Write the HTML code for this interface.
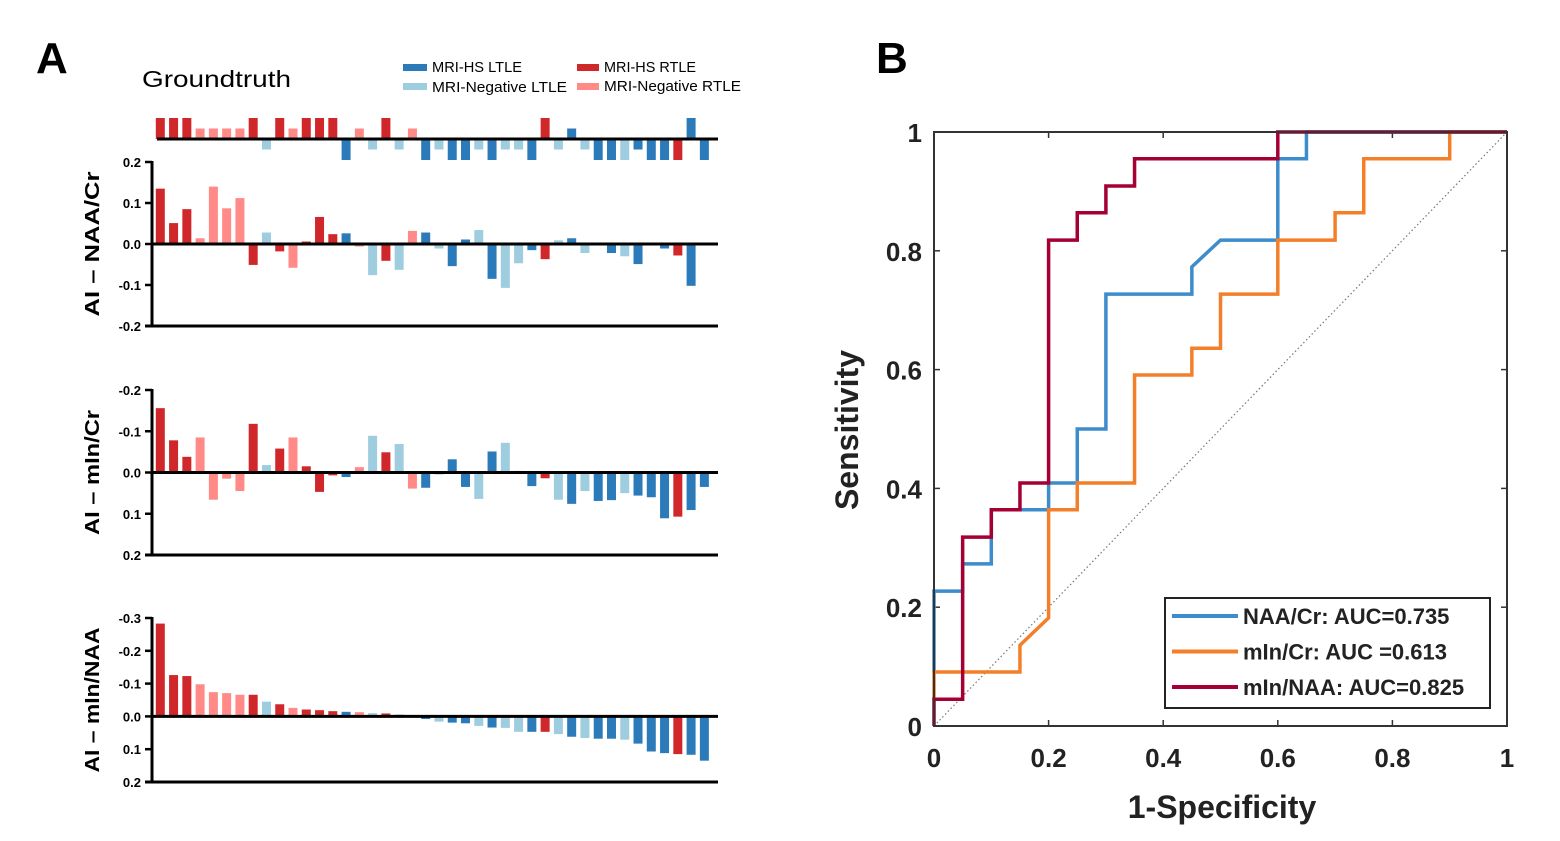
<!DOCTYPE html>
<html><head><meta charset="utf-8"><style>
html,body{margin:0;padding:0;background:#fff;}
svg text{font-family:"Liberation Sans",sans-serif;}
</style></head><body>
<svg id="fig" width="1560" height="836" viewBox="0 0 1560 836" xmlns="http://www.w3.org/2000/svg">
<text x="36" y="73" font-size="44" font-weight="bold">A</text>
<text x="876" y="73" font-size="44" font-weight="bold">B</text>
<text x="142" y="87" font-size="23" textLength="149" lengthAdjust="spacingAndGlyphs">Groundtruth</text>
<g font-size="15">
<rect x="403" y="64" width="24" height="7" fill="#2b7bba"/><text x="432" y="72" textLength="90" lengthAdjust="spacingAndGlyphs">MRI-HS LTLE</text>
<rect x="403" y="83" width="24" height="7" fill="#9ecde0"/><text x="432" y="92" textLength="135" lengthAdjust="spacingAndGlyphs">MRI-Negative LTLE</text>
<rect x="577" y="64" width="22" height="7" fill="#d0272a"/><text x="604" y="72" textLength="92" lengthAdjust="spacingAndGlyphs">MRI-HS RTLE</text>
<rect x="577" y="83" width="22" height="7" fill="#ff8a87"/><text x="604" y="91" textLength="137" lengthAdjust="spacingAndGlyphs">MRI-Negative RTLE</text>
</g>
<g id="barsA"></g>
<g id="roc"></g>
</svg>
<script>
const typesGT = ["R","R","R","r","r","r","r","R","b","R","r","R","R","R","B","r","b","R","b","r","B","b","B","B","b","B","b","b","B","R","b","B","b","B","B","b","B","B","B","R","B","B"];
const gtValues = [1,1,1,.5,.5,.5,.5,1,-.5,1,.5,1,1,1,-1,.5,-.5,1,-.5,.5,-1,-.5,-1,-1,-.5,-1,-.5,-.5,-1,1,-.5,.5,-.5,-1,-1,-1,-.5,-1,-1,-1,1,-1];
const naaCrValues = [0.135,0.051,0.085,0.014,0.14,0.087,0.112,-0.051,0.028,-0.018,-0.058,0.006,0.066,0.024,0.026,-0.006,-0.076,-0.041,-0.063,0.032,0.028,-0.011,-0.054,0.011,0.034,-0.085,-0.107,-0.047,-0.015,-0.037,0.009,0.014,-0.022,0,-0.022,-0.030,-0.049,0,-0.011,-0.028,-0.102,0];
const minCrValues = [-0.156,-0.078,-0.038,-0.085,0.066,0.015,0.045,-0.118,-0.018,-0.058,-0.085,-0.015,0.047,0.007,0.011,-0.013,-0.089,-0.049,-0.069,0.039,0.037,0.005,-0.032,0.035,0.064,-0.051,-0.072,-0.004,0.033,0.014,0.066,0.076,0.045,0.069,0.067,0.050,0.056,0.060,0.111,0.107,0.091,0.035];
const typesMinNaa = ["R","R","R","r","r","r","r","R","b","R","r","R","R","R","B","r","b","R","b","b","B","b","B","B","b","B","b","b","B","R","b","B","b","B","B","b","B","B","B","R","B","B"];
const minNaaValues = [-0.283,-0.126,-0.123,-0.098,-0.074,-0.071,-0.066,-0.066,-0.045,-0.037,-0.026,-0.021,-0.019,-0.016,-0.014,-0.013,-0.010,-0.009,-0.006,0.002,0.008,0.016,0.019,0.021,0.029,0.034,0.035,0.047,0.047,0.047,0.054,0.062,0.066,0.068,0.068,0.071,0.083,0.107,0.112,0.115,0.117,0.135];
const naaTicks = ["0.2","0.1","0.0","-0.1","-0.2"];
const minCrTicks = ["-0.2","-0.1","0.0","0.1","0.2"];
const minNaaTicks = ["-0.3","-0.2","-0.1","0.0","0.1","0.2"];
const rocX = [0,0.2,0.4,0.6,0.8,1];
const rocTickLabels = ["0","0.2","0.4","0.6","0.8","1"];
const naaCrRoc = [[0,0.09],[0,0.227],[0.05,0.227],[0.05,0.273],[0.1,0.273],[0.1,0.364],[0.2,0.364],[0.2,0.409],[0.25,0.409],[0.25,0.5],[0.3,0.5],[0.3,0.727],[0.45,0.727],[0.45,0.773],[0.5,0.818],[0.6,0.818],[0.6,0.955],[0.65,0.955],[0.65,1],[1,1]];
const minCrRoc = [[0,0.045],[0,0.091],[0.15,0.091],[0.15,0.136],[0.2,0.182],[0.2,0.364],[0.25,0.364],[0.25,0.409],[0.35,0.409],[0.35,0.591],[0.45,0.591],[0.45,0.636],[0.5,0.636],[0.5,0.727],[0.6,0.727],[0.6,0.818],[0.7,0.818],[0.7,0.864],[0.75,0.864],[0.75,0.955],[0.9,0.955],[0.9,1],[1,1]];
const minNaaRoc = [[0,0],[0,0.045],[0.05,0.045],[0.05,0.318],[0.1,0.318],[0.1,0.364],[0.15,0.364],[0.15,0.409],[0.2,0.409],[0.2,0.818],[0.25,0.818],[0.25,0.864],[0.3,0.864],[0.3,0.909],[0.35,0.909],[0.35,0.955],[0.6,0.955],[0.6,1],[1,1]];
const rocLabels = ["NAA/Cr: AUC=0.735","mIn/Cr: AUC =0.613","mIn/NAA: AUC=0.825"];

const NS="http://www.w3.org/2000/svg";
const COL={R:"#d0272a",r:"#ff8a87",B:"#2b7bba",b:"#9ecde0"};
function mk(parent,tag,attrs){const e=document.createElementNS(NS,tag);for(const k in attrs)e.setAttribute(k,attrs[k]);parent.appendChild(e);return e;}
const bx=i=>160.3+i*13.27;
const A=document.getElementById('barsA');

const gtScale=21;
gtValues.forEach((v,i)=>{const y0=139,y1=139-v*gtScale;
 const r=mk(A,'rect',{x:bx(i)-4.5,y:Math.min(y0,y1),width:9,height:Math.abs(y1-y0),fill:COL[typesGT[i]]});
 
 });
const gl=mk(A,'line',{x1:157,x2:718,y1:139,y2:139,stroke:"#000","stroke-width":3});



function barChart(name,values,types,ticks,top,bottom,zeroIdx,sign,label,lblLen){
 const n=ticks.length-1, step=(bottom-top)/n, zero=top+zeroIdx*step, scale=step/0.1;
 const yv=v=>zero - sign*v*scale;
 values.forEach((v,i)=>{const y1=yv(v);
  const r=mk(A,'rect',{x:bx(i)-4.5,y:Math.min(zero,y1),width:9,height:Math.abs(y1-zero),fill:COL[types[i]]});
  
  });
 ticks.forEach((t,k)=>{const y=top+k*step;
  mk(A,'line',{x1:145,x2:152,y1:y,y2:y,stroke:"#000","stroke-width":2.5});
  const tx=mk(A,'text',{x:141,y:y+5,"text-anchor":"end","font-size":13,"font-weight":"bold"});tx.textContent=t;
  
  });
 mk(A,'line',{x1:152,x2:152,y1:top-1,y2:bottom,stroke:"#000","stroke-width":3});
 mk(A,'line',{x1:145,x2:718,y1:bottom,y2:bottom,stroke:"#000","stroke-width":3});
 mk(A,'line',{x1:152,x2:718,y1:zero,y2:zero,stroke:"#000","stroke-width":3});
 const cy=(top+bottom)/2;
 const lt=mk(A,'text',{x:0,y:0,transform:`translate(99,${cy}) rotate(-90)`,"text-anchor":"middle","font-size":20,"font-weight":"bold",textLength:lblLen,lengthAdjust:"spacingAndGlyphs"});
 lt.textContent=label;
 
 
}
barChart('naa-cr',naaCrValues,typesGT,naaTicks,162,326,2,1,"AI – NAA/Cr",145);
barChart('min-cr',minCrValues,typesGT,minCrTicks,390,555,2,-1,"AI – mIn/Cr",125);
barChart('min-naa',minNaaValues,typesMinNaa,minNaaTicks,618,782,3,-1,"AI – mIn/NAA",145);

const R=document.getElementById('roc');
const X0=934,X1=1507,Y0=726,Y1=132;
const sx=v=>X0+v*(X1-X0), sy=v=>Y0-v*(Y0-Y1);
mk(R,'line',{x1:sx(0),y1:sy(0),x2:sx(1),y2:sy(1),stroke:"#777","stroke-width":1.2,"stroke-dasharray":"1.5 2.5"});
rocX.forEach((v,k)=>{
 mk(R,'line',{x1:sx(v),x2:sx(v),y1:Y0,y2:Y0-6,stroke:"#333","stroke-width":1.5});
 mk(R,'line',{x1:sx(v),x2:sx(v),y1:Y1,y2:Y1+6,stroke:"#333","stroke-width":1.5});
 mk(R,'line',{x1:X0,x2:X0+6,y1:sy(v),y2:sy(v),stroke:"#333","stroke-width":1.5});
 mk(R,'line',{x1:X1,x2:X1-6,y1:sy(v),y2:sy(v),stroke:"#333","stroke-width":1.5});
 const tx=mk(R,'text',{x:sx(v),y:767,"text-anchor":"middle","font-size":26,"font-weight":"bold",fill:"#222"});tx.textContent=rocTickLabels[k];
 
 
 const ty=mk(R,'text',{x:922,y:sy(v)+10,"text-anchor":"end","font-size":26,"font-weight":"bold",fill:"#222"});ty.textContent=rocTickLabels[k];
 
 
});
const series=[[naaCrRoc,"#3d8ccb"],[minCrRoc,"#f47f2a"],[minNaaRoc,"#a50034"]];
series.forEach(([pts,c])=>{
 const p=mk(R,'polyline',{points:pts.map(q=>sx(q[0])+","+sy(q[1])).join(" "),fill:"none",stroke:c,"stroke-width":3.5,"stroke-linejoin":"miter"});
 
 
});
const box=mk(R,'rect',{x:X0,y:Y1,width:X1-X0,height:Y0-Y1,fill:"none",stroke:"#333","stroke-width":2});


const lg=mk(R,'g',{});


mk(lg,'rect',{x:1165,y:598,width:325,height:110,fill:"#fff",stroke:"#222","stroke-width":2});
rocLabels.forEach((t,k)=>{const y=616+k*35.5;
 mk(lg,'line',{x1:1172,x2:1238,y1:y,y2:y,stroke:series[k][1],"stroke-width":4});
 const tx=mk(lg,'text',{x:1243,y:y+8,"font-size":22,"font-weight":"bold",fill:"#222"});tx.textContent=t;
 
 
});
const xt=mk(R,'text',{x:1222,y:818,"text-anchor":"middle","font-size":32,"font-weight":"bold",fill:"#222"});xt.textContent="1-Specificity";


const yt=mk(R,'text',{x:0,y:0,transform:"translate(858,430) rotate(-90)","text-anchor":"middle","font-size":32,"font-weight":"bold",fill:"#222"});yt.textContent="Sensitivity";


</script>
</body></html>
